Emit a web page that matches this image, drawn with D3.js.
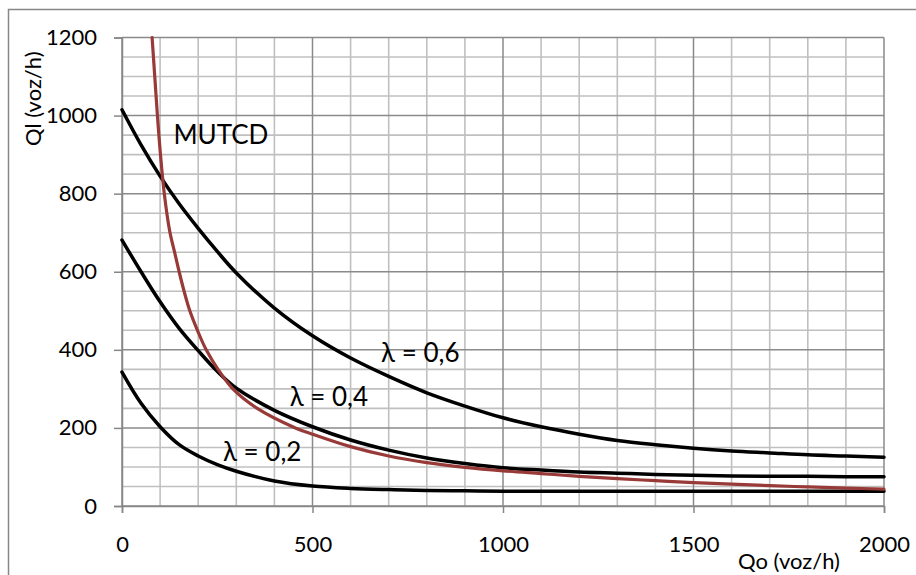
<!DOCTYPE html>
<html>
<head>
<meta charset="utf-8">
<script src="https://cdn.jsdelivr.net/npm/d3@7"></script>
<style>
  html, body { margin: 0; padding: 0; background: #fff; }
  svg { display: block; font-family: Lato, "Open Sans", sans-serif; }
</style>
</head>
<body>
<svg id="chart" width="916" height="575"></svg>
<script>
// Qo (voz/h) sample points shared by the lambda curves
const qo = [0, 50, 100, 150, 200, 250, 300, 400, 500, 600, 700, 800, 900, 1000,
            1100, 1200, 1300, 1400, 1500, 1600, 1700, 1800, 1900, 2000];

// Ql (voz/h) for each lambda curve, one value per qo point
const lambda02 = [343, 263, 203, 157, 128, 106, 89, 64, 51, 45, 42, 40, 39, 38,
                  38, 38, 38, 38, 38, 38, 38, 38, 38, 38];
const lambda04 = [681, 600, 523, 455, 398, 345, 302, 245, 203, 169, 143, 123, 109, 98,
                  92, 87, 84, 81, 79, 77, 76, 76, 75, 75];
const lambda06 = [1015, 925, 845, 774, 711, 652, 597, 507, 436, 379, 332, 290, 256, 226,
                  203, 184, 168, 157, 148, 141, 136, 131, 128, 125];

// MUTCD curve: its own Qo / Ql pairs
const mutcdQo = [79, 86, 93, 101, 111, 125, 138, 150, 163, 178, 198, 221, 252, 291,
                 355, 455, 500, 600, 700, 800, 900, 1000, 1100, 1200, 1300, 1400,
                 1500, 1600, 1700, 1800, 1900, 2000];
const mutcdQl = [1200, 1100, 1000, 900, 800, 705, 650, 600, 550, 500, 450, 400, 350, 300,
                 250, 200, 184, 152, 128, 111, 99, 90, 83, 76, 70, 65,
                 60, 56, 52, 49, 46, 43];

// Tick labels
const xTicks = [0, 500, 1000, 1500, 2000];
const yTicks = [0, 200, 400, 600, 800, 1000, 1200];

// Curve labels: text and the data point each label sits at
const curveLabels = [
  { text: "MUTCD",   qo: 135, ql: 927 },
  { text: "λ = 0,6", qo: 680, ql: 370 },
  { text: "λ = 0,4", qo: 440, ql: 255 },
  { text: "λ = 0,2", qo: 265, ql: 115 }
];

const svg = d3.select("#chart");

const x = d3.scaleLinear().domain([0, 2000]).range([122, 884]);
const y = d3.scaleLinear().domain([0, 1200]).range([506, 37.5]);

// outer chart frame
svg.append("rect")
  .attr("x", 8.5).attr("y", 9.5)
  .attr("width", 1200).attr("height", 1200)
  .attr("fill", "none").attr("stroke", "#878787").attr("stroke-width", 1.5);

// gridlines: minor first, then major on top
const grid = svg.append("g");
const xMinor = d3.range(100, 2000, 100).filter(v => v % 500 !== 0);
const yMinor = d3.range(50, 1200, 50).filter(v => v % 200 !== 0);
grid.selectAll("line.xm").data(xMinor).join("line")
  .attr("x1", d => x(d)).attr("x2", d => x(d))
  .attr("y1", y(0)).attr("y2", y(1200))
  .attr("stroke", "#c0c0c0").attr("stroke-width", 1.6);
grid.selectAll("line.ym").data(yMinor).join("line")
  .attr("x1", x(0)).attr("x2", x(2000))
  .attr("y1", d => y(d)).attr("y2", d => y(d))
  .attr("stroke", "#c0c0c0").attr("stroke-width", 1.6);
grid.selectAll("line.xM").data(xTicks).join("line")
  .attr("x1", d => x(d)).attr("x2", d => x(d))
  .attr("y1", y(0)).attr("y2", y(1200))
  .attr("stroke", "#8a8a8a").attr("stroke-width", 1.5);
grid.selectAll("line.yM").data(yTicks).join("line")
  .attr("x1", x(0)).attr("x2", x(2000))
  .attr("y1", d => y(d)).attr("y2", d => y(d))
  .attr("stroke", "#8a8a8a").attr("stroke-width", 1.5);

// axes
const yAxis = svg.append("g")
  .attr("transform", `translate(${x(0)},0)`)
  .call(d3.axisLeft(y).tickValues(yTicks).tickFormat(d3.format("d"))
        .tickSize(8).tickPadding(17));
const xAxis = svg.append("g")
  .attr("transform", `translate(0,${y(0)})`)
  .call(d3.axisBottom(x).tickValues(xTicks).tickFormat(d3.format("d"))
        .tickSize(7).tickPadding(23));
[xAxis, yAxis].forEach(a => {
  a.select(".domain").attr("stroke", "#878787").attr("stroke-width", 1.5);
  a.selectAll(".tick line").attr("stroke", "#878787").attr("stroke-width", 1.5);
  a.selectAll(".tick text").attr("fill", "#000")
    .style("font-size", "22px").style("font-family", "Lato, sans-serif");
});

// curves
const line = d3.line()
  .x(d => x(d[0])).y(d => y(d[1]))
  .curve(d3.curveCatmullRom.alpha(0.5));

const curves = svg.append("g").attr("fill", "none").attr("stroke-linecap", "round");
[lambda02, lambda04, lambda06].forEach(vals => {
  curves.append("path")
    .attr("d", line(qo.map((q, i) => [q, vals[i]])))
    .attr("stroke", "#000").attr("stroke-width", 3.5);
});
curves.append("path")
  .attr("d", line(mutcdQo.map((q, i) => [q, mutcdQl[i]])))
  .attr("stroke", "#983a38").attr("stroke-width", 3.2);

// curve labels
svg.append("g").selectAll("text").data(curveLabels).join("text")
  .attr("x", d => x(d.qo)).attr("y", d => y(d.ql))
  .style("font-size", "26px").attr("fill", "#000")
  .text(d => d.text);

// axis titles
svg.append("text")
  .attr("transform", "translate(41,146) rotate(-90)")
  .style("font-size", "22px").attr("fill", "#000")
  .text("Ql (voz/h)");
svg.append("text")
  .attr("x", 738).attr("y", 569)
  .style("font-size", "22px").attr("fill", "#000")
  .text("Qo (voz/h)");
</script>
</body>
</html>
